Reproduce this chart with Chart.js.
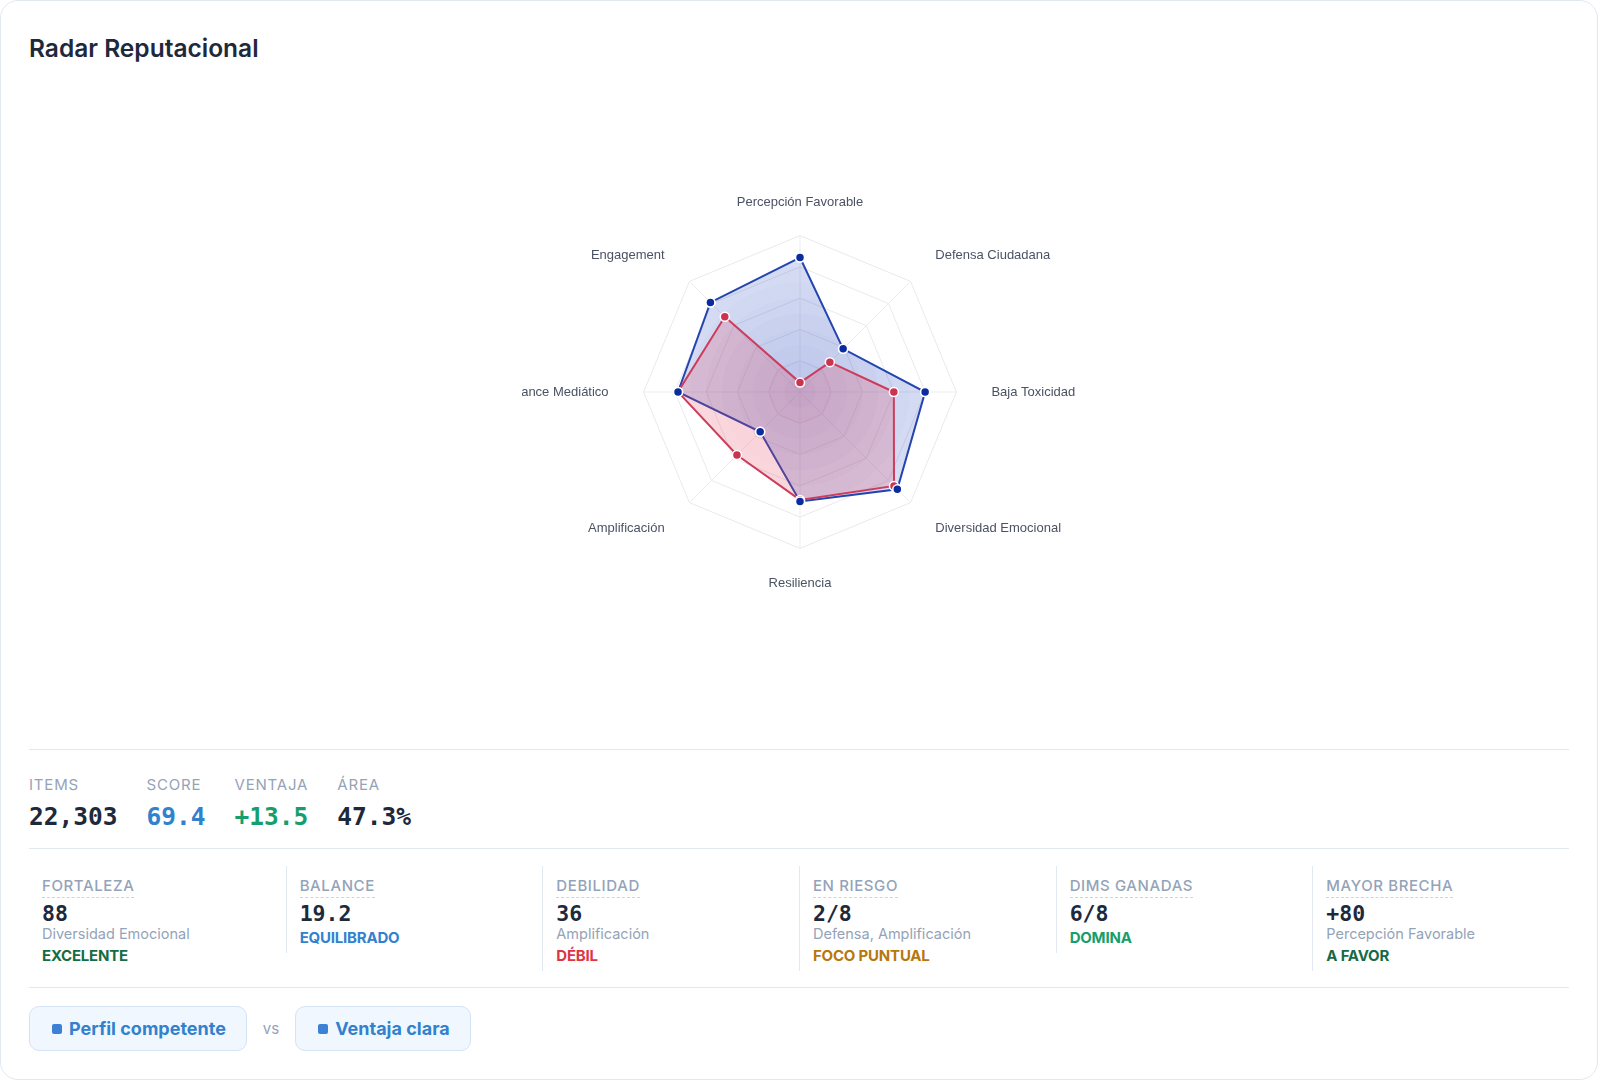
<!DOCTYPE html>
<html lang="es">
<head>
<meta charset="utf-8">
<title>Radar Reputacional</title>
<script src="https://cdn.jsdelivr.net/npm/chart.js@4.4.1/dist/chart.umd.min.js"></script>
<style>
  html, body { margin: 0; padding: 0; background: #fff; }
  body { width: 1600px; height: 1082px; position: relative; font-family: Inter, "Noto Sans", sans-serif; color: #1e293b; }
  .card { position: absolute; left: 0; top: 0; width: 1598px; height: 1080px; box-sizing: border-box; border: 1px solid #e2e8f0; border-radius: 18px; background: #fff; }
  .title { position: absolute; left: 28px; top: 31px; font-size: 24.5px; line-height: 32px; font-weight: 600; color: #1e293b; }
  .chart-clip { position: absolute; left: 521px; top: 194px; width: 556px; height: 398px; overflow: hidden; }
  .chart-clip canvas { position: absolute; left: -122px; top: 0; }
  .rule { position: absolute; left: 28px; width: 1540px; height: 1px; background: #e2e8f0; }
  .stats { position: absolute; left: 28px; top: 774px; display: flex; gap: 29px; }
  .stat .lbl { font-size: 15px; line-height: 20px; color: #94a3b8; letter-spacing: 0.8px; }
  .stat .val { font-family: "DejaVu Sans Mono", monospace; font-weight: 700; font-size: 24.5px; line-height: 30px; margin-top: 7px; }
  .metrics { position: absolute; left: 28px; top: 865px; width: 1540px; display: flex; align-items: flex-start; }
  .metric { width: 256.67px; box-sizing: border-box; padding: 9px 0 5px 13px; }
  .metric + .metric { border-left: 1px solid #e2e8f0; }
  .metric .lbl { display: inline-block; font-size: 15px; line-height: 18px; font-weight: 500; color: #94a3b8; letter-spacing: 0.6px; padding-bottom: 2px; border-bottom: 1px dashed #cbd5e1; }
  .metric .val { font-family: "DejaVu Sans Mono", monospace; font-weight: 700; font-size: 21.5px; line-height: 24px; margin-top: 4px; color: #1e293b; }
  .metric .sub { font-size: 14.5px; line-height: 20px; color: #94a3b8; margin-top: -2px; }
  .metric .tag { font-size: 15px; line-height: 20px; font-weight: 700; margin-top: 2px; letter-spacing: -0.2px; }
  .badges { position: absolute; left: 28px; top: 1005px; display: flex; align-items: center; gap: 16px; }
  .badge { height: 45px; box-sizing: border-box; display: flex; align-items: center; padding: 0 20px 0 22px; background: #f1f7fe; border: 1.5px solid #d4e3f5; border-radius: 10px; font-size: 18px; font-weight: 700; color: #3182ce; }
  .badge .dot { width: 10px; height: 10px; border-radius: 2px; background: #3b82d6; margin-right: 7px; }
  .vs { font-size: 15px; color: #94a3b8; }
</style>
</head>
<body>
<div class="card">
  <div class="title">Radar Reputacional</div>
  <div class="chart-clip"><canvas id="radar" width="800" height="398"></canvas></div>

  <div class="rule" style="top:748px"></div>
  <div class="stats" id="stats"></div>
  <div class="rule" style="top:847px"></div>
  <div class="metrics" id="metrics"></div>
  <div class="rule" style="top:986px"></div>

  <div class="badges">
    <div class="badge"><span class="dot"></span>Perfil competente</div>
    <span class="vs">vs</span>
    <div class="badge"><span class="dot"></span>Ventaja clara</div>
  </div>
</div>

<script>
const dimensions = ['Percepción Favorable', 'Defensa Ciudadana', 'Baja Toxicidad', 'Diversidad Emocional', 'Resiliencia', 'Amplificación', 'Alcance Mediático', 'Engagement'];
const mainScores = [86, 39, 80, 88, 70, 36, 78, 81];
const rivalScores = [6, 27, 60, 85, 69, 57, 78, 68];

const statLabels = ['ITEMS', 'SCORE', 'VENTAJA', 'ÁREA'];
const statValues = ['22,303', '69.4', '+13.5', '47.3%'];
const statColors = ['#1e293b', '#3182ce', '#179e6c', '#1e293b'];

const metricLabels = ['FORTALEZA', 'BALANCE', 'DEBILIDAD', 'EN RIESGO', 'DIMS GANADAS', 'MAYOR BRECHA'];
const metricValues = ['88', '19.2', '36', '2/8', '6/8', '+80'];
const metricSubs = ['Diversidad Emocional', '', 'Amplificación', 'Defensa, Amplificación', '', 'Percepción Favorable'];
const metricTags = ['EXCELENTE', 'EQUILIBRADO', 'DÉBIL', 'FOCO PUNTUAL', 'DOMINA', 'A FAVOR'];
const metricTagColors = ['#166b45', '#3182ce', '#dc3545', '#b7770f', '#179e6c', '#166b45'];

document.addEventListener('DOMContentLoaded', () => {
  renderStats();
  renderMetrics();
  renderRadar();
});

function renderStats() {
  const box = document.getElementById('stats');
  statLabels.forEach((l, i) => {
    const d = document.createElement('div');
    d.className = 'stat';
    d.innerHTML = `<div class="lbl">${l}</div><div class="val" style="color:${statColors[i]}">${statValues[i]}</div>`;
    box.appendChild(d);
  });
}

function renderMetrics() {
  const box = document.getElementById('metrics');
  metricLabels.forEach((l, i) => {
    const d = document.createElement('div');
    d.className = 'metric';
    let html = `<div class="lbl">${l}</div><div class="val">${metricValues[i]}</div>`;
    if (metricSubs[i]) html += `<div class="sub">${metricSubs[i]}</div>`;
    html += `<div class="tag" style="color:${metricTagColors[i]}">${metricTags[i]}</div>`;
    d.innerHTML = html;
    box.appendChild(d);
  });
}

// banded radial fill, darker towards the centre
function bandFill(rgb, inner, outer) {
  return (ctx) => {
    const chart = ctx.chart;
    const s = chart.scales.r;
    if (!s || !s.drawingArea) return `rgba(${rgb},${outer})`;
    const g = chart.ctx.createRadialGradient(s.xCenter, s.yCenter, 0, s.xCenter, s.yCenter, s.drawingArea);
    const steps = 10;
    for (let i = 0; i < steps; i++) {
      const a = inner + (outer - inner) * (i / (steps - 1));
      g.addColorStop(i / steps, `rgba(${rgb},${a.toFixed(3)})`);
      g.addColorStop((i + 1) / steps - 0.001, `rgba(${rgb},${a.toFixed(3)})`);
    }
    g.addColorStop(1, `rgba(${rgb},${outer})`);
    return g;
  };
}

// labels on the diagonals sit centred on their anchor, sides pushed further out
const isDiag = i => i % 2 === 1;
const isSide = i => i === 2 || i === 6;
const labelPad = i => (isDiag(i) || isSide(i)) ? 35 : (i === 0 ? 25 : 27);

function renderRadar() {
  const ctx = document.getElementById('radar');
  new Chart(ctx, {
    type: 'radar',
    data: {
      labels: dimensions,
      datasets: [
        {
          // blue markers again, on top of everything
          label: 'Perfil puntos',
          data: mainScores,
          order: 0,
          showLine: false,
          fill: false,
          borderWidth: 0,
          backgroundColor: 'rgba(0,0,0,0)',
          pointBackgroundColor: '#0a2c9e',
          pointBorderColor: '#ffffff',
          pointBorderWidth: 1.5,
          pointRadius: 4.5
        },
        {
          label: 'Competidor',
          data: rivalScores,
          order: 1,
          borderColor: '#cc3d5c',
          borderWidth: 2,
          backgroundColor: bandFill('228,70,95', 0.26, 0.19),
          pointBackgroundColor: '#cc3350',
          pointBorderColor: '#ffffff',
          pointBorderWidth: 1.5,
          pointRadius: 4.5,
          fill: true
        },
        {
          label: 'Perfil',
          data: mainScores,
          order: 2,
          borderColor: '#2444b0',
          borderWidth: 2,
          backgroundColor: bandFill('45,75,190', 0.32, 0.17),
          pointBackgroundColor: '#0a2c9e',
          pointBorderColor: '#ffffff',
          pointBorderWidth: 1.5,
          pointRadius: 4.5,
          fill: true
        }
      ]
    },
    options: {
      responsive: false,
      animation: false,
      plugins: { legend: { display: false }, tooltip: { enabled: false } },
      elements: { line: { tension: 0 } },
      scales: {
        r: {
          min: 0, max: 100,
          ticks: { display: false, stepSize: 20 },
          grid: { color: '#e9e9ee', lineWidth: 1 },
          angleLines: { color: '#ededf1', lineWidth: 1 },
          pointLabels: {
            padding: (c) => labelPad(c.index),
            color: '#4a5263',
            font: (c) => ({
              family: '"Liberation Sans", Arial, sans-serif',
              size: 13,
              lineHeight: isDiag(c.index) ? '2px' : 1.2
            })
          }
        }
      }
    }
  });
}
</script>
</body>
</html>
